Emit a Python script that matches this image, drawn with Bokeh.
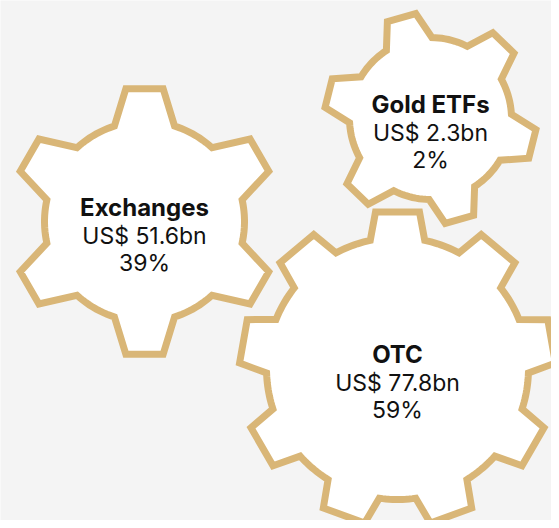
import numpy as np
from bokeh.plotting import figure
from bokeh.models import Range1d, ColumnDataSource
from bokeh.core.properties import value
from bokeh.embed import file_html
from bokeh.resources import INLINE

# ---- data ----
segments = ["Exchanges", "OTC", "Gold ETFs"]
volumes_bn = [51.6, 77.8, 2.3]
shares_pct = [39, 59, 2]

# ---- layout (screen-pixel coordinates) ----
centers_x = [144, 397, 430]
centers_y = [221, 368, 118]
outer_r = [134, 158, 106]
inner_r = [100, 131, 81]
teeth = [6, 9, 6]
phase_deg = [90, 90, 106]
base_half_deg = [17.5, 12, 17]
tip_half_deg = [8, 8, 8]

BG = "#f4f4f4"
GOLD = "#d9b677"
FONT = "Inter"


def gear(cx, cy, rin, rout, n, phase, bh, th):
    xs, ys = [], []
    pitch = 360.0 / n
    for k in range(n):
        a = phase + k * pitch
        pts = [(a - bh, rin), (a - th, rout), (a + th, rout), (a + bh, rin)]
        for ang, r in pts:
            t = np.radians(ang)
            xs.append(cx + r * np.cos(t))
            ys.append(cy - r * np.sin(t))
        arc = np.linspace(a + bh, a + pitch - bh, 12)[1:-1]
        t = np.radians(arc)
        xs.extend(cx + rin * np.cos(t))
        ys.extend(cy - rin * np.sin(t))
    return list(xs), list(ys)


W, H = 551, 520
p = figure(width=W, height=H, output_backend="svg", toolbar_location=None,
           x_range=Range1d(0, W), y_range=Range1d(H, 0),
           min_border=0, background_fill_color=BG, border_fill_color=BG)
p.axis.visible = False
p.grid.visible = False
p.outline_line_color = None

gx, gy = [], []
for i in range(len(segments)):
    x, y = gear(centers_x[i], centers_y[i], inner_r[i], outer_r[i], teeth[i],
                phase_deg[i], base_half_deg[i], tip_half_deg[i])
    gx.append(x)
    gy.append(y)

p.patches(gx, gy, fill_color="white", line_color=GOLD, line_width=7,
          line_join="miter")

title_y = [cy - 14 for cy in centers_y]
vol_y = [cy - 14 + 28 for cy in centers_y]
pct_y = [cy - 14 + 55 for cy in centers_y]

src = ColumnDataSource(dict(
    x=centers_x, ty=title_y, vy=vol_y, py=pct_y,
    title=segments,
    vol=[f"US$ {v}bn" for v in volumes_bn],
    pct=[f"{s}%" for s in shares_pct],
))

p.text(x="x", y="ty", text="title", source=src, text_font=value(FONT),
       text_font_style="bold", text_font_size="24px", text_color="#111111",
       text_align="center", text_baseline="alphabetic")
p.text(x="x", y="vy", text="vol", source=src, text_font=value(FONT),
       text_font_size="23px", text_color="#111111",
       text_align="center", text_baseline="alphabetic")
p.text(x="x", y="py", text="pct", source=src, text_font=value(FONT),
       text_font_size="23px", text_color="#111111",
       text_align="center", text_baseline="alphabetic")

open("out.html", "w").write(file_html(p, INLINE))
